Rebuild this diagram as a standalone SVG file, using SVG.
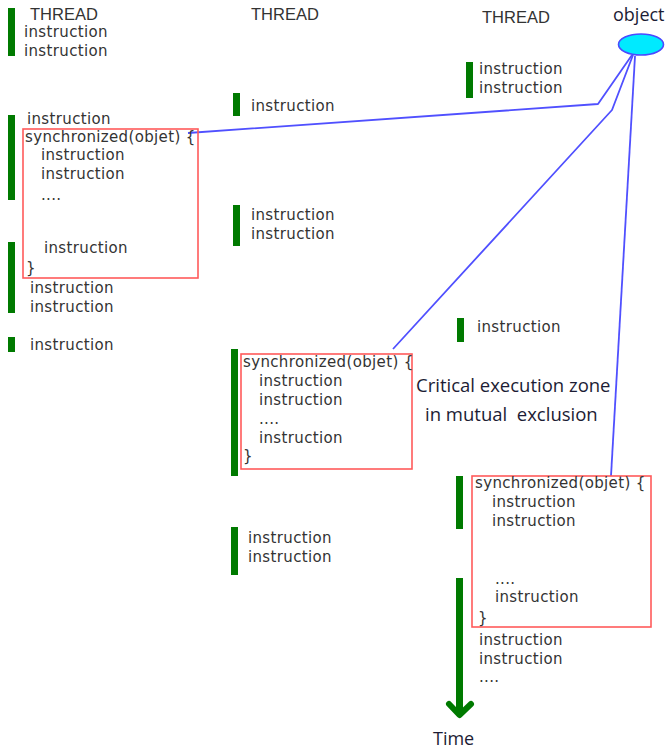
<svg xmlns="http://www.w3.org/2000/svg" width="665" height="751" viewBox="0 0 665 751">
<style>
  .t { font-family: "DejaVu Sans", "Liberation Sans", sans-serif; font-size: 15px; letter-spacing: 0.35px; fill: #333; }
  .h { font-family: "Liberation Sans", Arial, sans-serif; font-size: 16.5px; fill: #333; }
  .c { font-family: "Open Sans", "Noto Sans", sans-serif; font-size: 18.5px; fill: #1c1c34; }
  .bar { fill: #007a00; }
  .box { fill: none; stroke: #ff5a5a; stroke-width: 1.6; }
  .link { fill: none; stroke: #5050ff; stroke-width: 1.8; stroke-linejoin: round; }
</style>
<rect width="665" height="751" fill="#ffffff"/>

<g id="connectors">
  <polyline class="link" points="188,133 598,104 632,55"/>
  <polyline class="link" points="393,349 612,110 633,55"/>
  <polyline class="link" points="611,476 635,56"/>
</g>

<g id="thread1">
  <text class="h" x="30" y="19.5">THREAD</text>
  <rect class="bar" x="8" y="8" width="7" height="48"/>
  <text class="t" x="24" y="37">instruction</text>
  <text class="t" x="24" y="56">instruction</text>
  <rect class="bar" x="8" y="115" width="7" height="85"/>
  <text class="t" x="27" y="124">instruction</text>
  <g id="sync1">
    <rect class="box" x="23" y="129" width="175" height="149"/>
    <text class="t" x="25" y="142">synchronized(objet) {</text>
    <text class="t" x="41" y="160">instruction</text>
    <text class="t" x="41" y="179">instruction</text>
    <text class="t" x="41" y="200">....</text>
    <text class="t" x="44" y="253">instruction</text>
    <text class="t" x="26" y="273">}</text>
  </g>
  <rect class="bar" x="8" y="242" width="7" height="71"/>
  <text class="t" x="30" y="293">instruction</text>
  <text class="t" x="30" y="312">instruction</text>
  <rect class="bar" x="8" y="337" width="7" height="15"/>
  <text class="t" x="30" y="350">instruction</text>
</g>

<g id="thread2">
  <text class="h" x="251" y="20">THREAD</text>
  <rect class="bar" x="233" y="93" width="7" height="23"/>
  <text class="t" x="251" y="111">instruction</text>
  <rect class="bar" x="233" y="205" width="7" height="41"/>
  <text class="t" x="251" y="220">instruction</text>
  <text class="t" x="251" y="239">instruction</text>
  <rect class="bar" x="231" y="349" width="7" height="127"/>
  <g id="sync2">
    <rect class="box" x="241" y="354" width="171" height="115"/>
    <text class="t" x="243" y="367">synchronized(objet) {</text>
    <text class="t" x="259" y="386">instruction</text>
    <text class="t" x="259" y="405">instruction</text>
    <text class="t" x="259" y="424">....</text>
    <text class="t" x="259" y="443">instruction</text>
    <text class="t" x="243" y="461">}</text>
  </g>
  <rect class="bar" x="231" y="527" width="7" height="48"/>
  <text class="t" x="248" y="543">instruction</text>
  <text class="t" x="248" y="562">instruction</text>
</g>

<g id="thread3">
  <text class="h" x="482" y="23">THREAD</text>
  <rect class="bar" x="466" y="62" width="7" height="36"/>
  <text class="t" x="479" y="74">instruction</text>
  <text class="t" x="479" y="93">instruction</text>
  <rect class="bar" x="457" y="318" width="7" height="24"/>
  <text class="t" x="477" y="332">instruction</text>
  <rect class="bar" x="456" y="476" width="7" height="53"/>
  <g id="sync3">
    <rect class="box" x="472" y="476" width="179" height="151"/>
    <text class="t" x="475" y="488">synchronized(objet) {</text>
    <text class="t" x="492" y="507">instruction</text>
    <text class="t" x="492" y="526">instruction</text>
    <text class="t" x="495" y="584">....</text>
    <text class="t" x="495" y="602">instruction</text>
    <text class="t" x="478" y="623">}</text>
  </g>
  <text class="t" x="479" y="645">instruction</text>
  <text class="t" x="479" y="664">instruction</text>
  <text class="t" x="479" y="682">....</text>
</g>

<g id="time">
  <rect class="bar" x="456" y="578" width="7" height="134"/>
  <polyline points="449,704 459.5,715 471,704" fill="none" stroke="#007a00" stroke-width="6" stroke-linecap="round" stroke-linejoin="round"/>
  <text class="c" x="433" y="745" style="font-size:18px" fill="#111">Time</text>
</g>

<g id="object">
  <ellipse cx="641" cy="44.5" rx="22.5" ry="10.5" fill="#00eaff" stroke="#4a4aff" stroke-width="1.6"/>
  <text class="c" x="613" y="21" style="font-size:18px">object</text>
</g>

<g id="label">
  <text class="c" x="416" y="392">Critical execution zone</text>
  <text class="c" x="425" y="421" xml:space="preserve">in mutual  exclusion</text>
</g>
</svg>
